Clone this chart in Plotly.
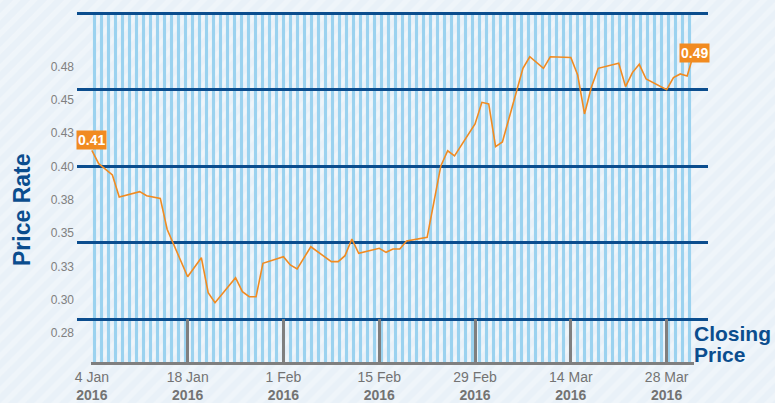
import plotly.graph_objects as go

# ---------------- data ----------------
dates = ["2016-01-04", "2016-01-05", "2016-01-07", "2016-01-08", "2016-01-11", "2016-01-12",
         "2016-01-14", "2016-01-15", "2016-01-18", "2016-01-20", "2016-01-21", "2016-01-22",
         "2016-01-25", "2016-01-26", "2016-01-27", "2016-01-28", "2016-01-29", "2016-02-01",
         "2016-02-02", "2016-02-03", "2016-02-05", "2016-02-08", "2016-02-09", "2016-02-10",
         "2016-02-11", "2016-02-12", "2016-02-15", "2016-02-16", "2016-02-17", "2016-02-18",
         "2016-02-19", "2016-02-22", "2016-02-24", "2016-02-25", "2016-02-26", "2016-02-29",
         "2016-03-01", "2016-03-02", "2016-03-03", "2016-03-04", "2016-03-07", "2016-03-08",
         "2016-03-10", "2016-03-11", "2016-03-14", "2016-03-15", "2016-03-16", "2016-03-17",
         "2016-03-18", "2016-03-21", "2016-03-22", "2016-03-23", "2016-03-24", "2016-03-25",
         "2016-03-28", "2016-03-29", "2016-03-30", "2016-03-31", "2016-04-01"]
closing_price = [0.412, 0.402, 0.3935, 0.377, 0.381, 0.378,
                 0.376, 0.3528, 0.3172, 0.3315, 0.3052, 0.2977,
                 0.3165, 0.306, 0.3022, 0.3022, 0.3273, 0.3322,
                 0.326, 0.323, 0.3397, 0.3285, 0.3285, 0.333,
                 0.3455, 0.3348, 0.3385, 0.3355, 0.338, 0.338,
                 0.344, 0.3467, 0.4003, 0.4117, 0.4078, 0.4318,
                 0.448, 0.4468, 0.4148, 0.4183, 0.4735, 0.4822,
                 0.4735, 0.4822, 0.4817, 0.4685, 0.4393, 0.4593,
                 0.4735, 0.4773, 0.4598, 0.4703, 0.4765, 0.4655,
                 0.4575, 0.4665, 0.4693, 0.4678, 0.4851]

x_tick_dates = ["2016-01-04", "2016-01-18", "2016-02-01", "2016-02-15",
                "2016-02-29", "2016-03-14", "2016-03-28"]
x_tick_days = ["4 Jan", "18 Jan", "1 Feb", "15 Feb", "29 Feb", "14 Mar", "28 Mar"]
x_tick_years = ["2016"] * 7

y_tick_vals = [0.275, 0.300, 0.325, 0.350, 0.375, 0.400, 0.425, 0.450, 0.475]
y_tick_text = ["0.28", "0.30", "0.33", "0.35", "0.38", "0.40", "0.43", "0.45", "0.48"]

# ---------------- styling ----------------
W, H = 775, 403
NAVY = "#0b4d8e"
ORANGE = "#f18b21"
GRAY = "#7f7f7f"
STRIPE = "#9bd2ef"
NARROW = "Liberation Sans Narrow, Arial Narrow, Liberation Sans, Arial, sans-serif"
BOLD = "Liberation Sans, Arial, sans-serif"

def px_x(p):
    return p / W

def px_y(p):
    return 1 - p / H

plot_x = [px_x(91), px_x(694)]
grid_x = [px_x(77), px_x(708)]
plot_y = [px_y(362), px_y(12)]

fig = go.Figure()

# page background (diagonal stripes)
fig.add_trace(go.Bar(x=[0.5], y=[1], width=[1], base=[0], xaxis="x", yaxis="y",
                     marker=dict(color="#e9f1f8", line=dict(width=0),
                                 pattern=dict(shape="/", fgcolor="#f6f9fc", bgcolor="#e9f1f8",
                                              size=12, solidity=0.45)),
                     hoverinfo="skip", showlegend=False))
# plot-area vertical stripes
fig.add_trace(go.Bar(x=[0.5], y=[1], width=[1], base=[0], xaxis="x2", yaxis="y2",
                     marker=dict(color=STRIPE, line=dict(width=0),
                                 pattern=dict(shape="|", fgcolor=STRIPE, bgcolor="rgba(0,0,0,0)",
                                              fillmode="replace", size=7, solidity=0.45)),
                     hoverinfo="skip", showlegend=False))
# dummy for thick grid subplot
fig.add_trace(go.Scatter(x=[None], y=[None], xaxis="x3", yaxis="y3",
                         hoverinfo="skip", showlegend=False))
# data line
fig.add_trace(go.Scatter(x=dates, y=closing_price, xaxis="x4", yaxis="y4", mode="lines",
                         line=dict(color=ORANGE, width=1.6), name="Closing Price",
                         showlegend=False))

hidden = dict(visible=False, fixedrange=True, automargin=False)
fig.update_layout(
    width=W, height=H,
    margin=dict(l=0, r=0, t=0, b=0, pad=0, autoexpand=False),
    paper_bgcolor="#edf3f9",
    plot_bgcolor="rgba(0,0,0,0)",
    bargap=0,
    xaxis=dict(domain=[0, 1], range=[0, 1], **hidden),
    yaxis=dict(domain=[0, 1], range=[0, 1], **hidden),
    xaxis2=dict(domain=plot_x, range=[0, 1], anchor="y2", **hidden),
    yaxis2=dict(domain=plot_y, range=[0, 1], anchor="x2", **hidden),
    xaxis3=dict(domain=grid_x, range=[0, 1], anchor="y3", **hidden),
    yaxis3=dict(domain=plot_y, range=[4 - 350 / 76.75, 4.015], anchor="x3",
                tickmode="array", tickvals=[0, 1, 2, 3, 4], showticklabels=False,
                showgrid=True, gridcolor=NAVY, gridwidth=3, zeroline=False,
                showline=False, ticks="", fixedrange=True, automargin=False),
    xaxis4=dict(type="date", domain=plot_x, range=["2016-01-03 21:00", "2016-04-01"], anchor="y4",
                tickmode="array", tickvals=x_tick_dates,
                ticktext=[f"{d}<br><b>{y}</b>" for d, y in zip(x_tick_days, x_tick_years)],
                ticks="inside", ticklen=43, tickwidth=2.7, tickcolor=GRAY,
                showline=True, linecolor=GRAY, linewidth=3, showgrid=False, zeroline=False,
                tickfont=dict(family=NARROW, size=14, color="#737373"), fixedrange=True,
                automargin=False),
    yaxis4=dict(domain=plot_y, range=[0.275 - 29 / 1333.3, 0.275 + 321 / 1333.3], anchor="x4",
                tickmode="array", tickvals=y_tick_vals, ticktext=y_tick_text,
                showgrid=False, zeroline=False, showline=False, ticks="",
                ticklabelstandoff=16,
                tickfont=dict(family=NARROW, size=12, color="#808080"), fixedrange=True,
                automargin=False),
)

annotations = [
    dict(text="<b>Price Rate</b>", textangle=-90, xref="paper", yref="paper",
         x=px_x(22), y=px_y(210), xanchor="center", yanchor="middle", showarrow=False,
         font=dict(family=BOLD, size=23, color=NAVY)),
    dict(text="<b>Closing</b>", xref="paper", yref="paper", x=px_x(692), y=px_y(333),
         xanchor="left", yanchor="middle", showarrow=False,
         font=dict(family=BOLD, size=21, color=NAVY)),
    dict(text="<b>Price</b>", xref="paper", yref="paper", x=px_x(692), y=px_y(354),
         xanchor="left", yanchor="middle", showarrow=False,
         font=dict(family=BOLD, size=21, color=NAVY)),
    dict(text=f"<b>{closing_price[0]:.2f}</b>", xref="x4", yref="y4",
         x=dates[0], y=closing_price[0], xanchor="center", yanchor="bottom",
         showarrow=False, bgcolor=ORANGE, borderpad=1,
         font=dict(family=NARROW, size=14, color="white")),
    dict(text=f"<b>{closing_price[-1]:.2f}</b>", xref="x4", yref="y4",
         x=dates[-1], y=closing_price[-1], xanchor="center", yanchor="middle",
         showarrow=False, bgcolor=ORANGE, borderpad=1,
         font=dict(family=NARROW, size=14, color="white")),
]
fig.update_layout(annotations=annotations)

fig.write_html("out.html", config={"displayModeBar": False},
               post_script="document.body.style.margin='0px';document.body.style.overflow='hidden';")
